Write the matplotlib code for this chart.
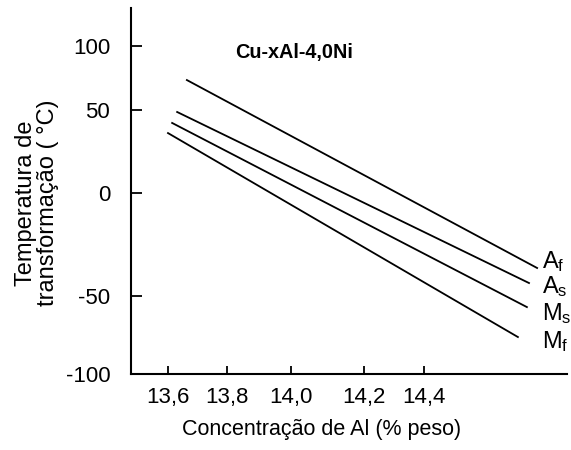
import numpy as np
import matplotlib
matplotlib.use('Agg')
from matplotlib import pyplot as plt

plt.rcParams['font.family'] = ['Liberation Sans', 'DejaVu Sans']
plt.rcParams['mathtext.fontset'] = 'custom'
plt.rcParams['mathtext.rm'] = 'Liberation Sans'
plt.rcParams['mathtext.it'] = 'Liberation Sans'

# dados
linhas = ['A_f', 'A_s', 'M_s', 'M_f']
x_ini = [13.664, 13.631, 13.614, 13.600]
x_fim = [14.777, 14.750, 14.743, 14.713]
t_ini = [73.4, 48.8, 42.2, 36.1]
t_fim = [-36.4, -43.7, -57.1, -76.3]
xticks = [13.6, 13.8, 14.0, 14.2, 14.4]
xtick_labels = ['13,6', '13,8', '14,0', '14,2', '14,4']
yticks = [100, 50, 0, -50, -100]

# escala do original (desenho nao uniforme)
ycal_v = [-150, -100, -50, 0, 50, 100, 150]
ycal_p = [-2, 76, 154, 257, 340, 404, 468]
xcal_v = [13.0, 13.4, 13.6, 13.8, 14.0, 14.2, 14.4, 15.0]
xcal_p = [-9, 109, 168, 227, 291, 364, 424, 604]

def fy(v):
    return np.interp(v, ycal_v, ycal_p)

def iy(p):
    return np.interp(p, ycal_p, ycal_v)

def fx(v):
    return np.interp(v, xcal_v, xcal_p)

def ix(p):
    return np.interp(p, xcal_p, xcal_v)

fig = plt.figure(figsize=(5.71, 4.5), dpi=100)
ax = fig.add_axes([131 / 571, 76 / 450, 436 / 571, 366 / 450])
ax.set_xscale('function', functions=(fx, ix))
ax.set_yscale('function', functions=(fy, iy))

for i, nome in enumerate(linhas):
    ax.plot([x_ini[i], x_fim[i]], [t_ini[i], t_fim[i]], color='black', lw=1.3)

# rotulos das curvas
rot_y = [-33.5, -45.6, -61.5, -79.5]
for i, nome in enumerate(linhas):
    ax.text(14.793, rot_y[i], r'$\mathregular{' + nome + '}$', fontsize=17,
            ha='left', va='center')

ax.text(14.008, 95, 'Cu-xAl-4,0Ni', fontsize=14.3, fontweight='bold',
        ha='center', va='center')

ax.set_xlim(ix(131), ix(567))
ax.set_ylim(-100, iy(442))
ax.set_xticks(xticks)
ax.set_xticklabels(xtick_labels)
ax.set_yticks(yticks)
ax.set_yticklabels([str(v) for v in yticks])
ax.minorticks_off()

for s in ['top', 'right']:
    ax.spines[s].set_visible(False)
for s in ['left', 'bottom']:
    ax.spines[s].set_linewidth(1.5)
ax.tick_params(axis='y', direction='in', length=8, width=1.3, pad=15, labelsize=16)
ax.tick_params(axis='x', direction='in', length=6, width=1.3, pad=9, labelsize=16)

ax.set_xlabel('Concentração de Al (% peso)', fontsize=15.5)
ax.xaxis.set_label_coords(0.438, -0.122)
ax.set_ylabel('Temperatura de\ntransformação ( °C)', fontsize=17, linespacing=1.0)
ax.yaxis.set_label_coords(-0.165, 0.467)

plt.savefig('out.png', dpi=100)
